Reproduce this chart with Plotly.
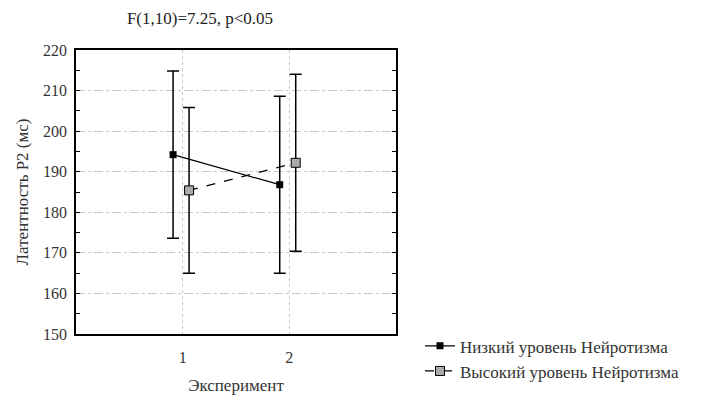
import plotly.graph_objects as go

experiments = [1, 2]
low_means = [194.2, 186.8]
low_err = [20.6, 21.8]
high_means = [185.4, 192.2]
high_err = [20.4, 21.8]
low_name = "Низкий уровень Нейротизма"
high_name = "Высокий уровень Нейротизма"
low_offset = -0.09
high_offset = 0.06

font_family = "Times New Roman, Liberation Serif, DejaVu Serif, serif"

fig = go.Figure()
fig.add_trace(go.Scatter(
    x=[e + low_offset for e in experiments], y=low_means, name=low_name,
    mode="lines+markers",
    line=dict(color="black", width=1.2),
    marker=dict(symbol="square", size=7, color="black"),
    error_y=dict(type="data", array=low_err, color="black", thickness=1.5, width=6),
))
fig.add_trace(go.Scatter(
    x=[e + high_offset for e in experiments], y=high_means, name=high_name,
    mode="lines+markers",
    line=dict(color="black", width=1.2, dash="dash"),
    marker=dict(symbol="square", size=9, color="#aaaaaa", line=dict(color="black", width=1)),
    error_y=dict(type="data", array=high_err, color="black", thickness=1.5, width=6),
))

fig.update_layout(
    width=720, height=398,
    margin=dict(l=76, r=324, t=50, b=64, autoexpand=False),
    paper_bgcolor="white", plot_bgcolor="white",
    font=dict(family=font_family, size=16, color="#333"),
    title=dict(text="F(1,10)=7.25, p<0.05", x=200/720, xanchor="center", y=1 - 18/398, yanchor="middle",
               font=dict(family=font_family, size=17, color="#222")),
    showlegend=True,
    legend=dict(x=1.075, y=0.02, xanchor="left", yanchor="top", bgcolor="rgba(0,0,0,0)",
                font=dict(family=font_family, size=17, color="#333"), tracegroupgap=0, itemwidth=30),
)
fig.update_xaxes(
    range=[0, 3], tickvals=experiments, ticktext=[str(e) for e in experiments],
    tickfont=dict(family=font_family, size=16),
    showline=True, linecolor="black", linewidth=1.5, mirror=True,
    showgrid=True, gridcolor="#c8c8c8", griddash="dot", gridwidth=1,
    ticks="", zeroline=False, ticklabelstandoff=8, automargin=False,
    title=dict(text="Эксперимент", standoff=14, font=dict(family=font_family, size=17)),
)
fig.update_yaxes(
    range=[150, 220], dtick=10,
    tickfont=dict(family=font_family, size=16),
    showline=True, linecolor="black", linewidth=1.5, mirror="allticks",
    showgrid=True, gridcolor="#c8c8c8", griddash="dashdot", gridwidth=1,
    ticks="inside", ticklen=4, tickcolor="black",
    minor=dict(ticks="inside", ticklen=4, dtick=5, tickcolor="black"),
    zeroline=False, ticklabelstandoff=4, automargin=False,
    title=dict(text="Латентность P2 (мс)", standoff=10, font=dict(family=font_family, size=17)),
)

fig.write_html("out.html")
